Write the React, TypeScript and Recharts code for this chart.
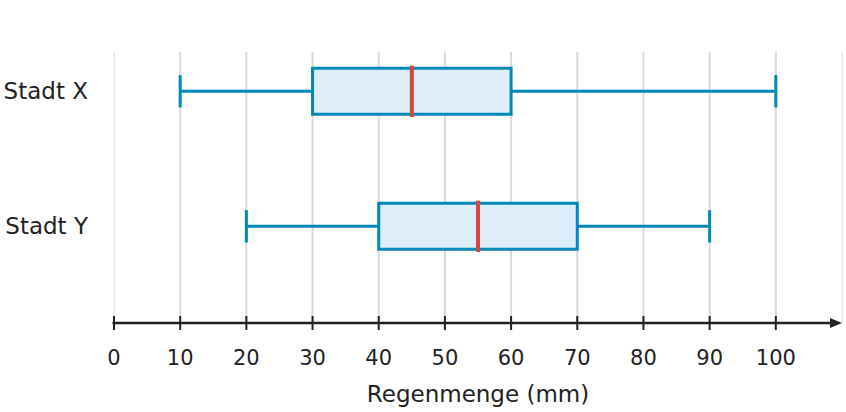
import React from 'react';
import {
  ComposedChart,
  XAxis,
  YAxis,
  CartesianGrid,
  ReferenceArea,
  ReferenceLine,
  Scatter,
} from 'recharts';

// ---- data ----
const categories = ['Stadt X', 'Stadt Y'];
const categoryPos = [1, 0];
const minVals = [10, 20];
const q1Vals = [30, 40];
const medianVals = [45, 55];
const q3Vals = [60, 70];
const maxVals = [100, 90];
const xTicks = [0, 10, 20, 30, 40, 50, 60, 70, 80, 90, 100];
const gridValues = [10, 20, 30, 40, 50, 60, 70, 80, 90, 100];
const xDomain = [0, 110];
const xLabel = 'Regenmenge (mm)';

// ---- styles ----
const FONT = '"DejaVu Sans", sans-serif';
const TEXT = '#222222';
const BLUE = '#0088bb';
const FILL = '#ddedf9';
const RED = '#d6453f';
const GRID = '#d9d9d9';
const BOX_HALF = 0.17;
const CAP_HALF = 0.12;
const MED_HALF = 0.19;
const TICK_MARGIN = 27;

const yDomain = [-0.716, 1.291];

const scatterData = categories.map((c, i) => ({ x: medianVals[i], y: categoryPos[i] }));

const XTick = (props: any) => {
  const { x, y, payload } = props;
  return (
    <g>
      <line x1={x} x2={x} y1={y - TICK_MARGIN - 7} y2={y - TICK_MARGIN + 7} stroke={TEXT} strokeWidth={2} />
      <text x={x} y={y} dy="0.71em" textAnchor="middle" fontSize={21} fill={TEXT} fontFamily={FONT}>
        {payload.value}
      </text>
    </g>
  );
};

const ArrowAxis = (props: any) => {
  const { x1, y1, x2, y2 } = props;
  return (
    <g>
      <line x1={x1 - 1.5} y1={y1} x2={x2 - 6} y2={y2} stroke={TEXT} strokeWidth={2.5} />
      <polygon points={`${x2},${y2} ${x2 - 12},${y2 - 5} ${x2 - 12},${y2 + 5}`} fill={TEXT} />
    </g>
  );
};

export default function App() {
  return (
    <div style={{ position: 'absolute', left: 0, top: 0, width: 846, height: 412, background: '#fff' }}>
      <ComposedChart
        width={846}
        height={412}
        margin={{ top: 52, right: 4, bottom: 0, left: 0 }}
        style={{ fontFamily: FONT }}
      >
        <CartesianGrid horizontal={false} verticalValues={gridValues} stroke={GRID} strokeWidth={2} />
        <XAxis
          type="number"
          dataKey="x"
          domain={xDomain}
          ticks={xTicks}
          allowDataOverflow
          height={89}
          axisLine={false}
          tickLine={false}
          tickSize={0}
          tickMargin={TICK_MARGIN}
          tick={<XTick />}
          interval={0}
          label={{ value: xLabel, position: 'insideBottom', offset: 10, fontSize: 23, fill: TEXT, fontFamily: FONT }}
        />
        <YAxis
          type="number"
          dataKey="y"
          domain={yDomain}
          ticks={categoryPos}
          allowDataOverflow
          width={114}
          axisLine={false}
          tickLine={false}
          tickSize={0}
          tickMargin={26}
          interval={0}
          tick={{ fontSize: 23, fill: TEXT, fontFamily: FONT }}
          tickFormatter={(v: number) => categories[categoryPos.indexOf(v)] ?? ''}
        />
        <ReferenceLine x={xDomain[0]} stroke={GRID} strokeWidth={1} />
        <ReferenceLine x={xDomain[1]} stroke={GRID} strokeWidth={1} />
        {categories.map((c, i) => (
          <ReferenceLine
            key={`wl-${c}`}
            segment={[{ x: minVals[i], y: categoryPos[i] }, { x: q1Vals[i], y: categoryPos[i] }]}
            stroke={BLUE}
            strokeWidth={3}
          />
        ))}
        {categories.map((c, i) => (
          <ReferenceLine
            key={`wr-${c}`}
            segment={[{ x: q3Vals[i], y: categoryPos[i] }, { x: maxVals[i], y: categoryPos[i] }]}
            stroke={BLUE}
            strokeWidth={3}
          />
        ))}
        {categories.map((c, i) => (
          <ReferenceLine
            key={`cl-${c}`}
            segment={[{ x: minVals[i], y: categoryPos[i] - CAP_HALF }, { x: minVals[i], y: categoryPos[i] + CAP_HALF }]}
            stroke={BLUE}
            strokeWidth={3}
          />
        ))}
        {categories.map((c, i) => (
          <ReferenceLine
            key={`cr-${c}`}
            segment={[{ x: maxVals[i], y: categoryPos[i] - CAP_HALF }, { x: maxVals[i], y: categoryPos[i] + CAP_HALF }]}
            stroke={BLUE}
            strokeWidth={3}
          />
        ))}
        {categories.map((c, i) => (
          <ReferenceArea
            key={`box-${c}`}
            x1={q1Vals[i]}
            x2={q3Vals[i]}
            y1={categoryPos[i] - BOX_HALF}
            y2={categoryPos[i] + BOX_HALF}
            fill={FILL}
            fillOpacity={1}
            stroke={BLUE}
            strokeWidth={3}
          />
        ))}
        {categories.map((c, i) => (
          <ReferenceLine
            key={`med-${c}`}
            segment={[{ x: medianVals[i], y: categoryPos[i] - MED_HALF }, { x: medianVals[i], y: categoryPos[i] + MED_HALF }]}
            stroke={RED}
            strokeWidth={4}
          />
        ))}
        <ReferenceLine
          segment={[{ x: xDomain[0], y: yDomain[0] }, { x: xDomain[1], y: yDomain[0] }]}
          shape={<ArrowAxis />}
          ifOverflow="visible"
        />
        <Scatter data={scatterData} isAnimationActive={false} shape={() => <g />} legendType="none" />
      </ComposedChart>
    </div>
  );
}
